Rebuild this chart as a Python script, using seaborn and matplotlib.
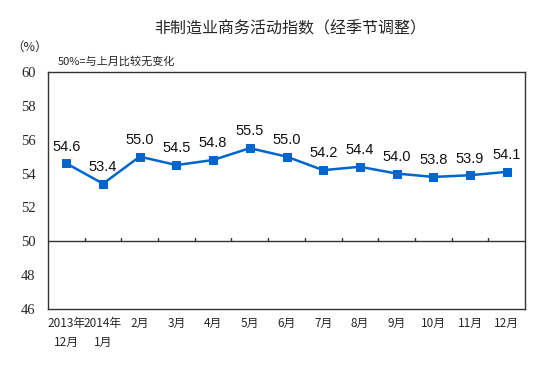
import matplotlib
matplotlib.use('Agg')
import matplotlib.pyplot as plt
import seaborn as sns
import numpy as np

# non-manufacturing business activity index, seasonally adjusted
months = ['2013年\n12月', '2014年\n1月', '2月', '3月', '4月', '5月', '6月',
          '7月', '8月', '9月', '10月', '11月', '12月']
values = [54.6, 53.4, 55.0, 54.5, 54.8, 55.5, 55.0, 54.2, 54.4, 54.0, 53.8, 53.9, 54.1]
yticks = [46, 48, 50, 52, 54, 56, 58, 60]

sns.set_style('white')
plt.rcParams['font.family'] = ['Noto Sans CJK SC', 'DejaVu Sans']

fig = plt.figure(figsize=(5.43, 3.89), dpi=100)
ax = fig.add_axes([0.0884, 0.2057, 0.8785, 0.6093])

xs = np.arange(len(values))
sns.lineplot(x=xs, y=values, ax=ax, color='#0066CC', linewidth=1.8,
             marker='s', markersize=6, markeredgecolor='#0066CC')

for x, v in zip(xs, values):
    ax.annotate(f'{v:.1f}', (x, v), xytext=(0, 7), textcoords='offset points',
                ha='center', va='bottom', fontsize=10.5, family='Liberation Sans',
                color='#111111')

ax.set_xlim(-0.5, len(values) - 0.5)
ax.set_ylim(46, 60)
ax.set_yticks(yticks)
ax.set_yticklabels([str(t) for t in yticks], family='Liberation Serif', fontsize=10.5)
ax.set_xticks(xs)
ax.set_xticklabels(months, fontsize=8.5, linespacing=1.6)
ax.tick_params(axis='both', length=0, pad=9)
ax.tick_params(axis='x', pad=6)

# axis line at 50 with small upward ticks between months
ax.axhline(50, color='#333333', linewidth=1)
for b in xs[:-1] + 0.5:
    ax.plot([b, b], [50, 50.2], color='#333333', linewidth=1)

for s in ax.spines.values():
    s.set_color('#333333')
    s.set_linewidth(1)

fig.text(0.535, 0.925, '非制造业商务活动指数（经季节调整）', ha='center', va='center',
         fontsize=11.5, fontweight='medium')
fig.text(0.055, 0.878, '（%）', ha='center', va='center', fontsize=9)
fig.text(0.107, 0.842, '50%=与上月比较无变化', ha='left', va='center', fontsize=8)

fig.savefig('out.png', dpi=100)
